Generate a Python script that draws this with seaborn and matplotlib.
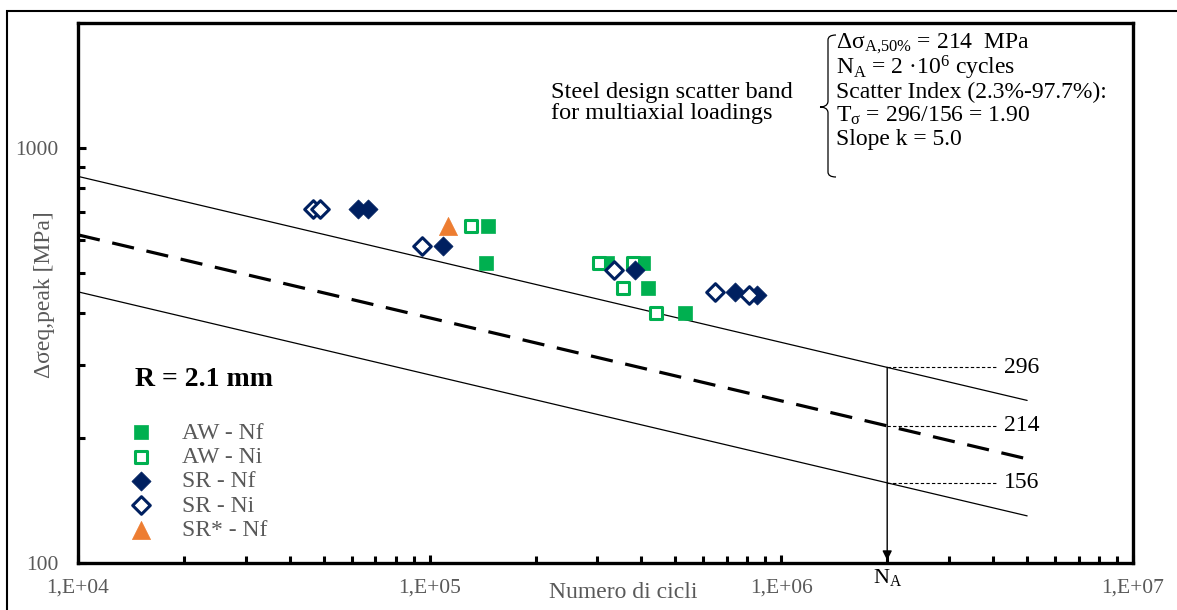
import numpy as np
import pandas as pd
import matplotlib
matplotlib.use("Agg")
import matplotlib.pyplot as plt
import seaborn as sns
from matplotlib.path import Path
from matplotlib.patches import PathPatch, Rectangle
from matplotlib.ticker import LogLocator, FixedLocator, FixedFormatter, NullFormatter

# ---- test data (cycles, peak equivalent stress range in MPa) ----
aw_nf_cycles = [146500, 144600, 319000, 404000, 418000, 532000]
aw_nf_stress = [647, 527, 527, 527, 459, 400]

aw_ni_cycles = [131000, 303000, 378000, 354000, 440000]
aw_ni_stress = [647, 527, 527, 459, 400]

sr_nf_cycles = [62500, 66800, 109000, 383000, 738000, 853000]
sr_nf_stress = [714, 714, 582, 507, 449, 442]

sr_ni_cycles = [46600, 48800, 95100, 334000, 647000, 809000]
sr_ni_stress = [714, 714, 582, 507, 449, 442]

srs_nf_cycles = [112700]
srs_nf_stress = [647]

# ---- scatter band parameters ----
N_A = 2e6
band_levels = [296, 214, 156]     # 97.7 %, 50 %, 2.3 %
slope_k = 5.0
band_range = [1e4, 5e6]

x_ticks = [1e4, 1e5, 1e6, 1e7]
x_tick_labels = ["1,E+04", "1,E+05", "1,E+06", "1,E+07"]
y_ticks = [100, 1000]
y_tick_labels = ["100", "1000"]

GREEN = "#00B050"
NAVY = "#002060"
ORANGE = "#ED7D31"
GREY = "#595959"

sns.set_theme(style="white")
plt.rcParams["font.family"] = ["Liberation Serif", "DejaVu Serif"]
plt.rcParams["mathtext.fontset"] = "custom"
plt.rcParams["mathtext.rm"] = "Liberation Serif"
plt.rcParams["mathtext.it"] = "Liberation Serif:italic"
plt.rcParams["xtick.direction"] = "in"
plt.rcParams["ytick.direction"] = "in"

fig = plt.figure(figsize=(11.77, 6.10), dpi=100)
W, H = 1177, 610
ax = fig.add_axes([78 / W, 1 - 563 / H, (1133 - 78) / W, (563 - 23) / H])

# outer frame
fig.add_artist(Rectangle((7 / W, -0.1), 1.2, 1 - 11 / H + 0.1,
                         transform=fig.transFigure, fill=False,
                         edgecolor="black", linewidth=1.5))

# scatter band lines
n_line = np.array(band_range)
band_rows = []
for lvl in band_levels:
    s_line = lvl * (N_A / n_line) ** (1.0 / slope_k)
    band_rows.append(pd.DataFrame({"N": n_line, "S": s_line, "level": lvl}))
band_df = pd.concat(band_rows, ignore_index=True)

for lvl, sub in band_df.groupby("level"):
    if lvl == band_levels[1]:
        sns.lineplot(data=sub, x="N", y="S", ax=ax, color="black",
                     linewidth=2.3, legend=False)
        ax.lines[-1].set_dashes((7, 4))
    else:
        sns.lineplot(data=sub, x="N", y="S", ax=ax, color="black",
                     linewidth=0.9, legend=False)

# experimental points
series = [
    ("AW - Nf", aw_nf_cycles, aw_nf_stress, "s", GREEN, GREEN, 95),
    ("AW - Ni", aw_ni_cycles, aw_ni_stress, "s", "white", GREEN, 85),
    ("SR - Nf", sr_nf_cycles, sr_nf_stress, "D", NAVY, NAVY, 95),
    ("SR - Ni", sr_ni_cycles, sr_ni_stress, "D", "white", NAVY, 80),
    ("SR* - Nf", srs_nf_cycles, srs_nf_stress, "^", ORANGE, ORANGE, 170),
]
for label, xs, ys, mk, fc, ec, size in series:
    df = pd.DataFrame({"N": xs, "S": ys})
    sns.scatterplot(data=df, x="N", y="S", ax=ax, marker=mk, s=size,
                    facecolor=fc, edgecolor=ec,
                    linewidth=2.2 if fc == "white" else 0.5,
                    label=label, zorder=5)

ax.set_xscale("log")
ax.set_yscale("log")
ax.set_xlim(1e4, 1e7)
ax.set_ylim(100, 2000)

ax.xaxis.set_major_locator(FixedLocator(x_ticks))
ax.xaxis.set_major_formatter(FixedFormatter(x_tick_labels))
ax.xaxis.set_minor_locator(LogLocator(base=10, subs=np.arange(2, 10)))
ax.xaxis.set_minor_formatter(NullFormatter())
ax.yaxis.set_major_locator(FixedLocator(y_ticks))
ax.yaxis.set_major_formatter(FixedFormatter(y_tick_labels))
ax.yaxis.set_minor_locator(LogLocator(base=10, subs=np.arange(2, 10)))
ax.yaxis.set_minor_formatter(NullFormatter())

ax.tick_params(axis="both", which="both", direction="in", colors="black",
               bottom=True, left=True, top=False, right=False,
               labelcolor=GREY, labelsize=15.5, width=2.2)
ax.tick_params(axis="both", which="major", length=6)
ax.tick_params(axis="both", which="minor", length=5)
ax.xaxis.set_tick_params(which="major", pad=11)
ax.yaxis.set_tick_params(which="major", pad=14)
ax.yaxis.set_tick_params(which="both", direction="in")
for sp in ax.spines.values():
    sp.set_linewidth(2.4)
    sp.set_color("black")
    sp.set_visible(True)

ax.set_xlabel("Numero di cicli", fontsize=17, color=GREY, va="center")
ax.xaxis.set_label_coords((623 - 78) / 1055.0, -(592 - 563) / 540.0)
ax.set_ylabel("Δσeq,peak [MPa]", fontsize=17, color=GREY, va="center")
ax.yaxis.set_label_coords(-(78 - 45) / 1055.0, (563 - 295) / 540.0)

# legend
leg = ax.legend(loc="upper left", bbox_to_anchor=(0.043, 0.261), frameon=False,
                fontsize=17, handletextpad=1.0, labelspacing=0.12,
                borderaxespad=0, handlelength=1.5, borderpad=0)
for t in leg.get_texts():
    t.set_color(GREY)

ax.text(0.054, 0.339, "R = 2.1 mm", transform=ax.transAxes, fontsize=20,
        fontweight="bold", va="center", ha="left", color="black")

# reference levels at N_A
for lvl in band_levels:
    ax.plot([N_A, 4.13e6], [lvl, lvl], color="black", linewidth=0.8,
            linestyle=(0, (3, 2)))
    ax.text(4.3e6, lvl, f"{lvl}", fontsize=17, va="center", ha="left",
            color="black")

ax.annotate("", xy=(N_A, 101.5), xytext=(N_A, band_levels[0]),
            arrowprops=dict(arrowstyle="-|>", color="black", lw=1.0,
                            mutation_scale=14, shrinkA=0, shrinkB=0))
ax.text(N_A, -(577 - 563) / 540.0, r"$\mathregular{N_A}$",
        transform=ax.get_xaxis_transform(),
        fontsize=16, ha="center", va="center", color="black")

# descriptive block
def ax_frac(px, py):
    return ((px - 78) / 1055.0, (563 - py) / 540.0)

tx, ty = ax_frac(793, 103)
ax.text(tx, ty, "Steel design scatter band\nfor multiaxial loadings",
        transform=ax.transAxes, fontsize=17.5, va="center", ha="right",
        multialignment="left", linespacing=1.0, color="black")

info_lines = [
    r"$\mathregular{\Delta\sigma_{A{,}50\%}}$ = 214  MPa",
    r"$\mathregular{N_A}$ = 2 ·10$^{\mathregular{6}}$ cycles",
    "Scatter Index (2.3%-97.7%):",
    r"$\mathregular{T_σ}$ = 296/156 = 1.90",
    "Slope k = 5.0",
]
info_y = [44, 68, 92, 116, 139]
for line, py in zip(info_lines, info_y):
    lx, ly = ax_frac(836, py)
    ax.text(lx, ly, line, transform=ax.transAxes, fontsize=17,
            va="center", ha="left", color="black")

# curly brace
bx_end, bx_mid, bx_tip = 836, 828, 820
by_top, by_mid, by_bot = 35, 107, 177
pts_px = [
    (bx_end, by_top), (bx_mid, by_top), (bx_mid, by_top + 5),
    (bx_mid, by_mid - 6),
    (bx_mid, by_mid - 1), (bx_tip + 3, by_mid), (bx_tip, by_mid),
    (bx_tip + 3, by_mid), (bx_mid, by_mid + 1), (bx_mid, by_mid + 6),
    (bx_mid, by_bot - 5),
    (bx_mid, by_bot), (bx_end, by_bot), (bx_end, by_bot),
]
codes = [Path.MOVETO, Path.CURVE3, Path.CURVE3, Path.LINETO,
         Path.CURVE4, Path.CURVE4, Path.CURVE4,
         Path.CURVE4, Path.CURVE4, Path.CURVE4,
         Path.LINETO, Path.CURVE3, Path.CURVE3, Path.LINETO]
verts = [ax_frac(px, py) for px, py in pts_px]
ax.add_patch(PathPatch(Path(verts, codes), transform=ax.transAxes,
                       fill=False, edgecolor="black", linewidth=0.9,
                       clip_on=False))

fig.savefig("out.png", dpi=100)
